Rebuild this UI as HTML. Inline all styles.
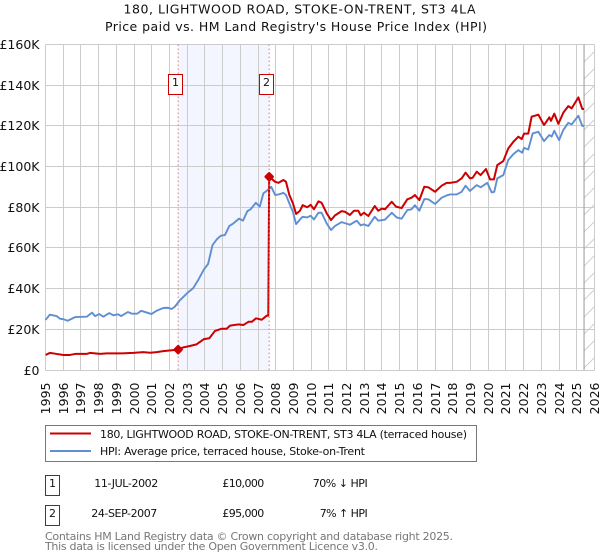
<!DOCTYPE html>
<html lang="en">
<head>
<meta charset="utf-8">
<title>180, Lightwood Road price chart</title>
<style>
html,body{margin:0;padding:0;background:#fff;}
svg{display:block;font-family:"DejaVu Sans","Liberation Sans",sans-serif;}
</style>
</head>
<body>
<svg id="chart" xmlns="http://www.w3.org/2000/svg" width="600" height="560" viewBox="0 0 600 560">
<defs>
<pattern id="hatch" patternUnits="userSpaceOnUse" width="17" height="17">
<line x1="0" y1="17" x2="17" y2="0" stroke="#cfcfcf" stroke-width="1"/>
</pattern>
</defs>
<rect width="600" height="560" fill="#fff"/>
<text x="299.5" y="13.5" text-anchor="middle" font-size="12.5" fill="#111" textLength="352">180, LIGHTWOOD ROAD, STOKE-ON-TRENT, ST3 4LA</text>
<text x="296" y="31" text-anchor="middle" font-size="12.5" fill="#111" textLength="382">Price paid vs. HM Land Registry's House Price Index (HPI)</text>
<g id="shade"></g>
<g id="grid"></g>
<g id="yticks"></g>
<g id="xticks"></g>
<g id="series"></g>
<g id="marks"></g>

<g>
<rect x="45.5" y="425.5" width="431" height="36" fill="#fff" stroke="#777" stroke-width="1"/>
<line x1="50" x2="91" y1="433.5" y2="433.5" stroke="#cc0000" stroke-width="2"/>
<text x="100" y="438" font-size="11" fill="#111" textLength="367">180, LIGHTWOOD ROAD, STOKE-ON-TRENT, ST3 4LA (terraced house)</text>
<line x1="50" x2="91" y1="451" y2="451" stroke="#5f8fd2" stroke-width="2"/>
<text x="100" y="455" font-size="11" fill="#111" textLength="265">HPI: Average price, terraced house, Stoke-on-Trent</text>
</g>

<g>
<rect x="45.5" y="475.5" width="14" height="20" fill="#fff" stroke="#cc0000" stroke-width="1"/>
<text x="52.5" y="487" text-anchor="middle" font-size="11" fill="#111">1</text>
<text x="94.3" y="487" font-size="11" fill="#111" textLength="64">11-JUL-2002</text>
<text x="222.3" y="487" font-size="11" fill="#111" textLength="42">£10,000</text>
<text x="312.7" y="487" font-size="11" fill="#111" textLength="55">70% ↓ HPI</text>
</g>
<g>
<rect x="45.5" y="505.5" width="14" height="20" fill="#fff" stroke="#cc0000" stroke-width="1"/>
<text x="52.5" y="517" text-anchor="middle" font-size="11" fill="#111">2</text>
<text x="91.3" y="517" font-size="11" fill="#111" textLength="66">24-SEP-2007</text>
<text x="222.3" y="517" font-size="11" fill="#111" textLength="42">£95,000</text>
<text x="319.7" y="517" font-size="11" fill="#111" textLength="48">7% ↑ HPI</text>
</g>
<text x="45" y="540" font-size="11" fill="#777" textLength="408">Contains HM Land Registry data © Crown copyright and database right 2025.</text>
<text x="45" y="550" font-size="11" fill="#777" textLength="333">This data is licensed under the Open Government Licence v3.0.</text>
</svg>
<script>
const yearLabels = [1995,1996,1997,1998,1999,2000,2001,2002,2003,2004,2005,2006,2007,2008,2009,2010,2011,2012,2013,2014,2015,2016,2017,2018,2019,2020,2021,2022,2023,2024,2025,2026];
const valueTicks = [0,20,40,60,80,100,120,140,160];
const priceDates = [1995.01,1995.25,1995.63,1996.01,1996.38,1996.67,1997.32,1997.51,1997.79,1998.08,1998.45,1999.02,1999.30,1999.96,2000.52,2000.90,2001.28,2001.65,2002.49,2002.77,2003.15,2003.53,2003.95,2004.25,2004.57,2004.95,2005.23,2005.42,2005.89,2006.17,2006.46,2006.65,2006.89,2007.21,2007.49,2007.58,2007.63,2007.97,2008.15,2008.43,2008.58,2008.77,2008.97,2009.15,2009.37,2009.52,2009.78,2009.97,2010.16,2010.41,2010.59,2010.88,2011.12,2011.35,2011.72,2011.91,2012.19,2012.42,2012.66,2012.80,2012.98,2013.23,2013.59,2013.79,2013.98,2014.17,2014.55,2014.79,2015.11,2015.43,2015.67,2015.86,2016.11,2016.39,2016.62,2017.00,2017.37,2017.65,2017.84,2018.22,2018.50,2018.72,2018.97,2019.12,2019.35,2019.57,2019.87,2020.10,2020.32,2020.51,2020.85,2021.13,2021.42,2021.70,2021.89,2022.02,2022.26,2022.45,2022.83,2023.15,2023.45,2023.54,2023.73,2023.96,2024.24,2024.52,2024.71,2025.09,2025.31,2025.41];
const priceValues = [7.4,8.4,7.9,7.4,7.4,7.9,7.9,8.4,8.2,7.9,8.2,8.2,8.2,8.4,8.8,8.5,8.8,9.3,10,11.1,11.8,12.6,15.2,15.6,19.2,20.3,20.3,21.8,22.4,22.1,23.7,23.7,25.4,24.7,26.7,26.7,95,92.5,92,93.4,92.5,86,82,76.7,78.3,81,80,81.2,79,82.9,82.2,77,73.7,76,78.1,77.8,76.2,78.3,78.3,76,77.3,75.7,80.6,78.3,79.3,79,82.7,80.3,79.6,83.9,84.7,86,83.5,90.1,89.8,87.6,90.6,92,92,92.5,94.2,97,94.2,94.5,97.5,95.8,98.8,93.7,93.7,100.7,102.7,108.9,112.2,114.7,113.5,116.2,116.2,124.5,125.5,120.4,124.2,122.5,126,121,126.5,129.7,128.6,134,128.3,128.3];
const hpiDates = [1995.00,1995.25,1995.63,1995.82,1996.00,1996.25,1996.67,1997.33,1997.63,1997.80,1998.03,1998.27,1998.60,1998.83,1999.10,1999.27,1999.65,1999.87,2000.18,2000.40,2000.70,2000.98,2001.27,2001.65,2001.93,2002.12,2002.30,2002.60,2003.05,2003.33,2003.62,2003.95,2004.18,2004.43,2004.67,2004.90,2005.13,2005.38,2005.60,2005.93,2006.15,2006.40,2006.58,2006.88,2007.10,2007.30,2007.50,2007.75,2007.97,2008.25,2008.43,2008.58,2008.77,2008.97,2009.15,2009.37,2009.52,2009.78,2009.97,2010.16,2010.41,2010.59,2010.88,2011.12,2011.35,2011.72,2012.19,2012.57,2012.80,2012.98,2013.23,2013.59,2013.79,2014.17,2014.55,2014.83,2015.11,2015.43,2015.67,2015.86,2016.11,2016.39,2016.62,2017.00,2017.37,2017.65,2017.84,2018.22,2018.50,2018.72,2018.97,2019.35,2019.57,2019.95,2020.19,2020.34,2020.51,2020.85,2021.13,2021.42,2021.70,2021.92,2022.02,2022.26,2022.51,2022.83,2023.15,2023.45,2023.58,2023.73,2024.00,2024.24,2024.52,2024.71,2025.09,2025.31,2025.41];
const hpiValues = [24.6,27.2,26.5,25.2,25,24.2,26,26.2,28.2,26.5,27.5,26.2,28,26.9,27.4,26.5,28.5,27.7,27.7,29.1,28.3,27.5,29.1,30.5,30.6,30,31.1,34.4,38.2,40.1,44.2,49.5,52.1,61.4,64.2,66,66.3,70.8,72,74.4,73.4,78.1,79,82.2,80.3,86.8,88.1,90,86,86.5,87.1,86,81.9,77.8,71.7,74,75.3,75,75.8,74,77.3,77.3,72,68.8,70.8,72.7,71.4,73.4,71.1,71.6,70.8,75.3,73.4,73.9,77.3,75,74.4,78.6,79,81,78.3,84,83.9,81.6,84.7,85.8,86.3,86.3,87.6,90.6,88,90.9,89.8,92,87.3,87.6,94.2,95.8,103.2,106.1,108.1,106.8,109.2,108.4,116.3,117.1,112.5,115.5,114.7,117.6,113,118,121.5,120.7,125,120,120];
const saleDates = [2002.49,2007.63];
const saleValues = [10,95];
const saleLabels = ['1','2'];
const dataEndDate = 2025.41;

const NS = 'http://www.w3.org/2000/svg';
const plotLeft = 45.5, plotRight = 594.5, plotTop = 44.5, plotBottom = 370;
const minYear = 1995, maxYear = 2026, maxValue = 160;
function xScale(year){ return plotLeft + (year - minYear) * (plotRight - plotLeft) / (maxYear - minYear); }
function yScale(v){ return plotBottom - v * (plotBottom - plotTop) / maxValue; }
function make(tag, attrs, parent){
  const el = document.createElementNS(NS, tag);
  for (const k in attrs) el.setAttribute(k, attrs[k]);
  parent.appendChild(el);
  return el;
}
const shade = document.getElementById('shade');
const grid = document.getElementById('grid');
const yticks = document.getElementById('yticks');
const xticks = document.getElementById('xticks');
const series = document.getElementById('series');
const marks = document.getElementById('marks');

const band = make('rect', {x:xScale(saleDates[0]), y:plotTop, width:xScale(saleDates[1])-xScale(saleDates[0]), height:plotBottom-plotTop, fill:'#f3f6fe'}, shade);



const hatch = make('rect', {x:xScale(dataEndDate), y:plotTop, width:plotRight-xScale(dataEndDate), height:plotBottom-plotTop, fill:'url(#hatch)'}, shade);



yearLabels.forEach(function(yr){
  const x = Math.round(xScale(yr) - 0.5) + 0.5;
  const gl = make('line', {x1:x, x2:x, y1:plotTop, y2:plotBottom, stroke:'#cccccc', 'stroke-width':1}, grid);
  
  
  const t = make('text', {transform:'translate(' + (x + 4.5) + ',382.5) rotate(-90)', 'text-anchor':'end', 'font-size':12.5, fill:'#111'}, xticks);
  t.textContent = String(yr);
  
  
});
valueTicks.forEach(function(v){
  const y = Math.round(yScale(v) - 0.5) + 0.5;
  const gl = make('line', {x1:plotLeft, x2:plotRight, y1:y, y2:y, stroke:'#cccccc', 'stroke-width':1}, grid);
  
  
  const t = make('text', {x:39.5, y:y + 4.5, 'text-anchor':'end', 'font-size':12.5, fill:'#111'}, yticks);
  t.textContent = v === 0 ? '£0' : '£' + v + 'K';
  
  
});

const endLine = make('line', {x1:xScale(dataEndDate), x2:xScale(dataEndDate), y1:plotTop, y2:plotBottom, stroke:'#999999', 'stroke-width':1}, grid);



function linePath(dates, values){
  return dates.map(function(d, i){ return (i ? 'L' : 'M') + xScale(d).toFixed(2) + ' ' + yScale(values[i]).toFixed(2); }).join(' ');
}
const hpiLine = make('path', {d:linePath(hpiDates, hpiValues), fill:'none', stroke:'#5f8fd2', 'stroke-width':1.9, 'stroke-linejoin':'round'}, series);


const priceLine = make('path', {d:linePath(priceDates, priceValues), fill:'none', stroke:'#cc0000', 'stroke-width':2, 'stroke-linejoin':'round'}, series);



saleDates.forEach(function(d, i){
  const x = xScale(d);
  const guide = make('line', {x1:x, x2:x, y1:plotTop, y2:plotBottom, stroke:'#ff6b78', 'stroke-width':1, 'stroke-dasharray':'1.5 2.5'}, marks);
  
  
  const dot = make('path', {d:'M' + x + ' ' + (yScale(saleValues[i]) - 3.5) + ' l3.5 3.5 l-3.5 3.5 l-3.5 -3.5 z', fill:'#cc0000', stroke:'#cc0000', 'stroke-width':2.5, 'stroke-linejoin':'round'}, marks);
  
  
  const box = make('rect', {x:Math.round(x) - 9.5, y:74.5, width:14, height:20, fill:'#fff', stroke:'#cc0000', 'stroke-width':1}, marks);
  
  
  const label = make('text', {x:Math.round(x) - 2.5, y:86, 'text-anchor':'middle', 'font-size':11, fill:'#111'}, marks);
  label.textContent = saleLabels[i];
  
  
});
</script>
</body>
</html>
